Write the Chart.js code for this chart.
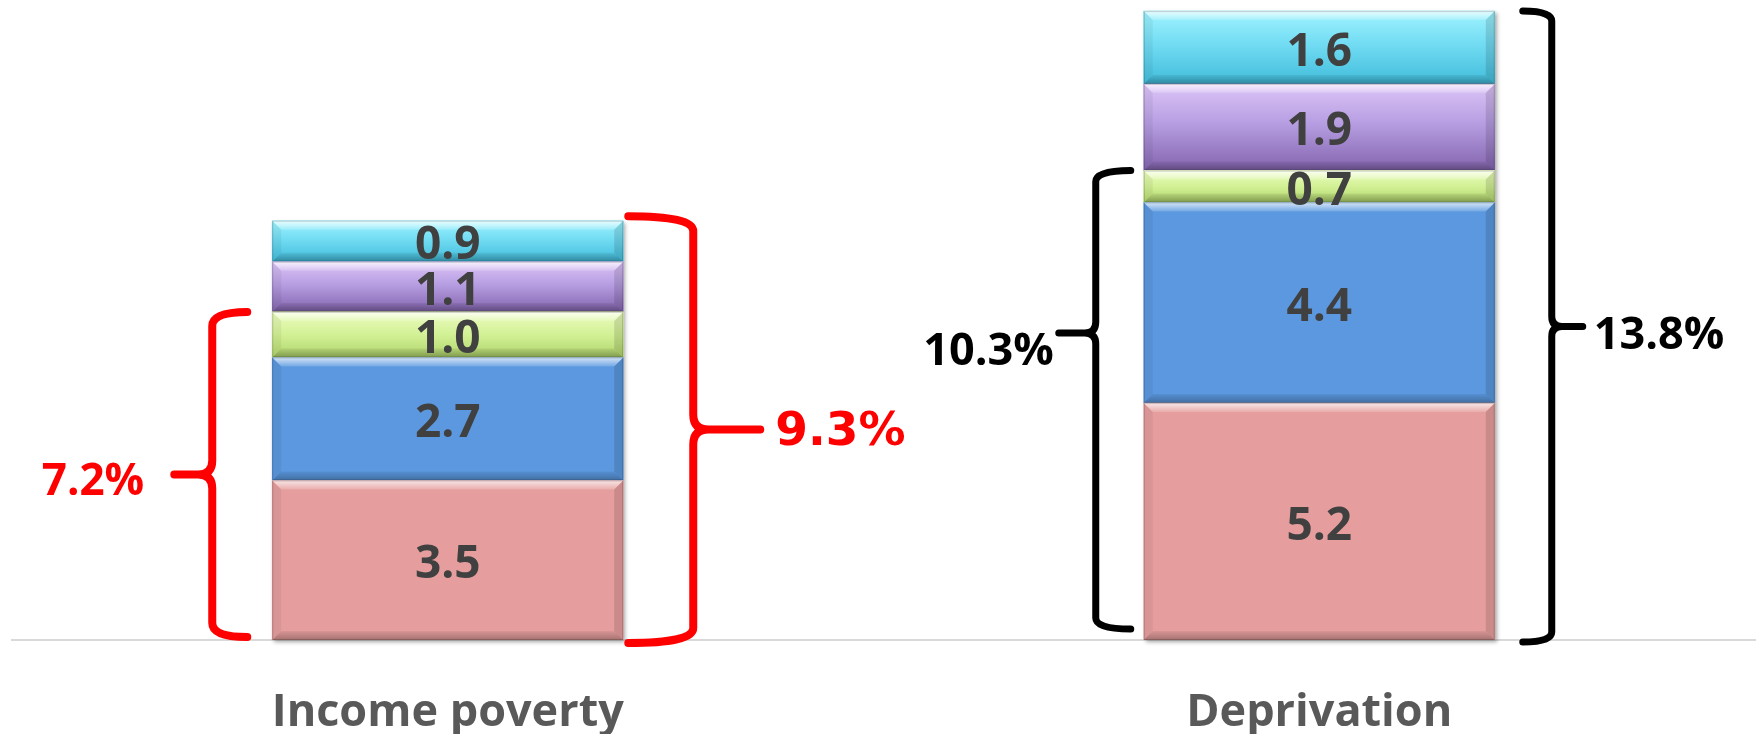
<!DOCTYPE html>
<html>
<head>
<meta charset="utf-8">
<script src="https://cdn.jsdelivr.net/npm/chart.js@4.4.0/dist/chart.umd.min.js"></script>
<style>
  html, body { margin: 0; padding: 0; background: #fff; }
  #wrap { width: 1760px; height: 734px; position: relative; }
</style>
</head>
<body>
<div id="wrap"><canvas id="chart"></canvas></div>
<script>
const categories = ["Income poverty", "Deprivation"];

// stacked segments, bottom to top
const seriesPink = [3.5, 5.2];
const seriesBlue = [2.7, 4.4];
const seriesGreen = [1.0, 0.7];
const seriesPurple = [1.1, 1.9];
const seriesCyan = [0.9, 1.6];

// bracket annotations
const bracketBar = [0, 0, 1, 1];
const bracketSide = ["left", "right", "left", "right"];
const bracketFrom = [0, 0, 0, 0];
const bracketTo = [7.2, 9.3, 10.3, 13.8];
const bracketText = ["7.2%", "9.3%", "10.3%", "13.8%"];

// bracket look: gap from bar edge to the ends, spine and tip offsets (px)
const bracketStyle = [
  { color: "#ff0000", gap: 25, spine: 60, tip: 98, r: 14, mid: 0.5, inset: 3, width: 8, font: "bold 44px 'Open Sans'", dx: 30, dy: 8 },
  { color: "#ff0000", gap: 5, spine: 70, tip: 137, r: 15, mid: 0.5, inset: -3, width: 8, font: "bold 47px 'DejaVu Sans'", dx: 15, dy: 3 },
  { color: "#000000", gap: 13, spine: 48, tip: 85, r: 11, mid: 0.354, inset: 11, width: 7, font: "bold 45px 'Open Sans'", dx: 5, dy: 19 },
  { color: "#000000", gap: 28, spine: 57, tip: 88, r: 10, mid: 0.5, inset: -2, width: 7, font: "bold 45px 'Open Sans'", dx: 11, dy: 10 },
];

const segmentColors = ["#e59e9d", "#5b98df", "#cdef8e", "#ad92dc", "#6fd9f1"];
// vertical shading for the lighter segments (null = flat)
const segmentGradients = [
  null,
  null,
  [[0, "#ebfcc0"], [0.5, "#d2f195"], [1, "#b0d46b"]],
  [[0, "#dcc4f7"], [0.45, "#b79ee2"], [1, "#8364ae"]],
  [[0, "#a0f3fe"], [0.45, "#72dcf3"], [1, "#41bcdb"]],
];

function barRect(bar) {
  const p = bar.getProps(["x", "y", "base", "width"], true);
  return {
    l: p.x - p.width / 2,
    r: p.x + p.width / 2,
    t: Math.min(p.y, p.base),
    b: Math.max(p.y, p.base),
  };
}

function quad(ctx, pts, fill) {
  ctx.fillStyle = fill;
  ctx.beginPath();
  ctx.moveTo(pts[0], pts[1]);
  for (let i = 2; i < pts.length; i += 2) ctx.lineTo(pts[i], pts[i + 1]);
  ctx.closePath();
  ctx.fill();
}

// bevelled edges on each bar segment
function drawBevel(ctx, rc, s) {
  const { l, r, t, b } = rc;
  s = Math.min(s, (b - t) / 2);
  const hi = ctx.createLinearGradient(0, t, 0, t + s);
  hi.addColorStop(0, "rgba(255,255,255,0.75)");
  hi.addColorStop(1, "rgba(255,255,255,0.15)");
  quad(ctx, [l, t, r, t, r - s, t + s, l + s, t + s], hi);
  const lo = ctx.createLinearGradient(0, b - s, 0, b);
  lo.addColorStop(0, "rgba(0,0,0,0.06)");
  lo.addColorStop(1, "rgba(0,0,0,0.28)");
  quad(ctx, [l, b, r, b, r - s, b - s, l + s, b - s], lo);
  quad(ctx, [l, t, l + s, t + s, l + s, b - s, l, b], "rgba(0,0,0,0.05)");
  quad(ctx, [r, t, r - s, t + s, r - s, b - s, r, b], "rgba(0,0,0,0.12)");
  ctx.strokeStyle = "rgba(0,0,0,0.18)";
  ctx.lineWidth = 1;
  ctx.strokeRect(l + 0.5, t + 0.5, r - l - 1, b - t - 1);
}

const bevelPlugin = {
  id: "bevel",
  beforeDatasetsDraw(chart) {
    // soft drop shadow behind each stack
    const ctx = chart.ctx;
    const metas = chart.getSortedVisibleDatasetMetas();
    categories.forEach((c, i) => {
      const rects = metas.map((m) => barRect(m.data[i]));
      const l = rects[0].l, r = rects[0].r;
      const t = Math.min(...rects.map((q) => q.t));
      const b = Math.max(...rects.map((q) => q.b));
      ctx.save();
      ctx.shadowColor = "rgba(0,0,0,0.35)";
      ctx.shadowBlur = 4;
      ctx.shadowOffsetX = 2;
      ctx.shadowOffsetY = 2;
      ctx.fillStyle = "#ffffff";
      ctx.fillRect(l, t, r - l, b - t);
      ctx.restore();
    });
  },
  afterDatasetDraw(chart, args) {
    const ctx = chart.ctx;
    const stops = segmentGradients[args.index];
    ctx.save();
    args.meta.data.forEach((bar) => {
      const rc = barRect(bar);
      if (stops) {
        const g = ctx.createLinearGradient(0, rc.t, 0, rc.b);
        stops.forEach(([o, col]) => g.addColorStop(o, col));
        ctx.fillStyle = g;
        ctx.fillRect(rc.l, rc.t, rc.r - rc.l, rc.b - rc.t);
      }
      drawBevel(ctx, rc, 9);
    });
    ctx.restore();
  },
};

// value labels centred in each segment
const valueLabelPlugin = {
  id: "valueLabels",
  afterDatasetsDraw(chart) {
    const ctx = chart.ctx;
    ctx.save();
    ctx.font = "bold 46px 'Open Sans'";
    ctx.fillStyle = "#404040";
    ctx.textAlign = "center";
    ctx.textBaseline = "middle";
    chart.data.datasets.forEach((ds, di) => {
      chart.getDatasetMeta(di).data.forEach((bar, i) => {
        const rc = barRect(bar);
        ctx.fillText(ds.data[i].toFixed(1), (rc.l + rc.r) / 2, (rc.t + rc.b) / 2 + 5);
      });
    });
    ctx.restore();
  },
};

function drawBrace(ctx, xEnd, xSpine, xTip, yTop, yBot, yMid, r) {
  const d = Math.sign(xTip - xSpine);
  ctx.beginPath();
  ctx.moveTo(xEnd, yTop);
  ctx.quadraticCurveTo(xSpine, yTop, xSpine, yTop + r);
  ctx.lineTo(xSpine, yMid - r);
  ctx.quadraticCurveTo(xSpine, yMid, xSpine + d * r, yMid);
  ctx.lineTo(xTip, yMid);
  ctx.moveTo(xEnd, yBot);
  ctx.quadraticCurveTo(xSpine, yBot, xSpine, yBot - r);
  ctx.lineTo(xSpine, yMid + r);
  ctx.quadraticCurveTo(xSpine, yMid, xSpine + d * r, yMid);
  ctx.stroke();
}

const bracketPlugin = {
  id: "brackets",
  afterDraw(chart) {
    const ctx = chart.ctx;
    const yScale = chart.scales.y;
    const meta = chart.getDatasetMeta(0);
    ctx.save();
    ctx.lineCap = "round";
    ctx.lineJoin = "round";
    bracketTo.forEach((to, k) => {
      const st = bracketStyle[k];
      const rc = barRect(meta.data[bracketBar[k]]);
      const d = bracketSide[k] === "left" ? -1 : 1;
      const edge = d < 0 ? rc.l : rc.r;
      const yTop = yScale.getPixelForValue(to);
      const yBot = yScale.getPixelForValue(bracketFrom[k]) - st.inset;
      const yMid = yTop + (yBot - yTop) * st.mid;
      const xTip = edge + d * st.tip;
      ctx.strokeStyle = st.color;
      ctx.lineWidth = st.width;
      drawBrace(ctx, edge + d * st.gap, edge + d * st.spine, xTip, yTop, yBot, yMid, st.r);
      ctx.fillStyle = st.color;
      ctx.font = st.font;
      ctx.textAlign = d < 0 ? "right" : "left";
      ctx.textBaseline = "middle";
      ctx.fillText(bracketText[k], xTip + d * st.dx, yMid + st.dy);
    });
    ctx.restore();
  },
};

const datasets = [seriesPink, seriesBlue, seriesGreen, seriesPurple, seriesCyan].map((data, i) => ({
  data,
  backgroundColor: segmentColors[i],
  borderWidth: 0,
  barThickness: 351,
}));

new Chart(document.getElementById("chart"), {
  type: "bar",
  data: { labels: categories, datasets },
  options: {
    responsive: true,
    maintainAspectRatio: false,
    animation: false,
    layout: { padding: { top: 2, left: 12, right: 5, bottom: 0 } },
    plugins: {
      legend: { display: false },
      tooltip: { enabled: false },
    },
    scales: {
      x: {
        stacked: true,
        grid: { display: false, drawTicks: false },
        border: { display: true, color: "#d9d9d9", width: 2 },
        ticks: {
          color: "#595959",
          font: { family: "Open Sans", size: 45, weight: "bold" },
          padding: 46,
        },
        afterFit(scale) {
          scale.height = 94;
        },
      },
      y: { stacked: true, display: false, min: 0, max: 14 },
    },
  },
  plugins: [bevelPlugin, valueLabelPlugin, bracketPlugin],
});
</script>
</body>
</html>
